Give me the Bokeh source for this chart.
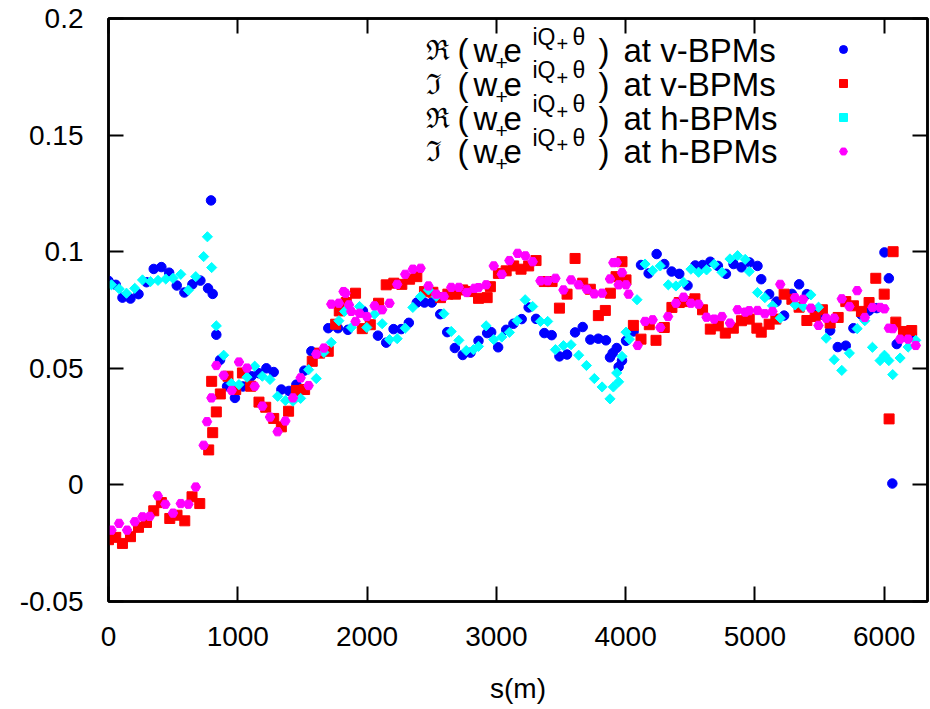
import numpy as np
from bokeh.plotting import figure
from bokeh.models import (Range1d, FixedTicker, LinearAxis, Label, Legend, LegendItem)
from bokeh.embed import file_html
from bokeh.resources import INLINE

# ---------------- data ----------------
re_v_s = [0, 56, 108, 170, 232, 294, 350, 409, 469, 528, 587, 649, 711, 770, 793, 806, 834, 863, 917, 978,
          1040, 1105, 1162, 1221, 1278, 1337, 1396, 1453, 1515, 1569, 1700, 1775, 1852, 1968, 2084, 2148, 2205,
          2264, 2323, 2385, 2444, 2501, 2566, 2620, 2679, 2740, 2800, 2862, 2929, 2960, 3014, 3076, 3132, 3196,
          3250, 3307, 3371, 3428, 3488, 3547, 3609, 3668, 3727, 3789, 3848, 3879, 3900, 3931, 3946, 3972, 4003,
          4062, 4119, 4178, 4240, 4299, 4356, 4415, 4479, 4539, 4595, 4655, 4714, 4776, 4835, 4896, 4958, 5020,
          5049, 5110, 5167, 5226, 5286, 5342, 5402, 5464, 5522, 5582, 5641, 5703, 5762, 5824, 5883, 5943, 6002,
          6036, 6063, 6097, 6154, 6213]
re_v_w = [0.0875, 0.0858, 0.0803, 0.0799, 0.0818, 0.0869, 0.0926, 0.0934, 0.091, 0.0855, 0.0825, 0.086, 0.0876,
          0.0843, 0.122, 0.0819, 0.0644, 0.0536, 0.0423, 0.0373, 0.0422, 0.0466, 0.0479, 0.05, 0.0484, 0.0409,
          0.0403, 0.043, 0.049, 0.0573, 0.0672, 0.0672, 0.0665, 0.0746, 0.064, 0.061, 0.0668, 0.0668, 0.0695,
          0.0782, 0.0782, 0.0782, 0.0732, 0.0655, 0.0587, 0.0557, 0.0567, 0.0618, 0.0651, 0.0655, 0.059, 0.0665,
          0.0691, 0.0711, 0.0761, 0.0712, 0.0651, 0.0642, 0.0551, 0.0559, 0.0654, 0.0677, 0.0623, 0.0627, 0.062,
          0.0547, 0.0565, 0.0587, 0.0506, 0.0533, 0.0618, 0.0658, 0.0943, 0.0907, 0.099, 0.0947, 0.0915, 0.0905,
          0.0855, 0.0941, 0.0943, 0.0957, 0.0939, 0.0905, 0.0947, 0.0933, 0.0954, 0.0939, 0.0882, 0.0818, 0.0786,
          0.0726, 0.0819, 0.086, 0.0818, 0.0747, 0.073, 0.0662, 0.0591, 0.0597, 0.0672, 0.073, 0.0747, 0.0758,
          0.0997, 0.0886, 0.0006, 0.0604, 0.0637, 0.0647]

im_v_s = [0, 56, 108, 170, 232, 294, 350, 409, 474, 530, 590, 646, 706, 775, 798, 806, 834, 865, 924, 984,
          1036, 1100, 1164, 1216, 1278, 1337, 1393, 1453, 1517, 1576, 1633, 1700, 1757, 1785, 1839, 1911, 1963,
          2025, 2089, 2148, 2207, 2269, 2329, 2385, 2444, 2509, 2568, 2625, 2684, 2740, 2805, 2862, 2929, 2954,
          3016, 3076, 3134, 3191, 3250, 3307, 3371, 3431, 3488, 3547, 3609, 3668, 3727, 3789, 3843, 3882, 3926,
          3972, 4003, 4060, 4119, 4183, 4235, 4299, 4358, 4415, 4475, 4536, 4595, 4655, 4717, 4771, 4833, 4896,
          4956, 5015, 5049, 5110, 5162, 5226, 5286, 5342, 5402, 5466, 5522, 5582, 5644, 5703, 5762, 5824, 5883,
          5935, 6000, 6038, 6069, 6090, 6149, 6213]
im_v_w = [-0.0235, -0.0225, -0.0251, -0.0222, -0.0182, -0.0161, -0.0111, -0.0076, -0.0144, -0.013, -0.0154,
          -0.0051, -0.008, 0.015, 0.0444, 0.0224, 0.0313, 0.039, 0.0466, 0.0409, 0.048, 0.0423, 0.0355, 0.0333,
          0.0285, 0.0249, 0.0316, 0.0405, 0.0409, 0.053, 0.0565, 0.0573, 0.0689, 0.0746, 0.0782, 0.0822, 0.067,
          0.0687, 0.0779, 0.0858, 0.0865, 0.086, 0.0882, 0.0893, 0.0829, 0.0826, 0.0803, 0.0818, 0.0818, 0.0836,
          0.0829, 0.08, 0.0803, 0.085, 0.0907, 0.0918, 0.0939, 0.0925, 0.0939, 0.0962, 0.0872, 0.0872, 0.0758,
          0.0818, 0.0971, 0.0865, 0.0839, 0.0726, 0.0748, 0.0822, 0.0893, 0.0957, 0.0879, 0.0684, 0.0625, 0.0687,
          0.062, 0.0675, 0.0761, 0.0782, 0.0786, 0.0798, 0.0751, 0.0668, 0.0682, 0.0651, 0.0672, 0.0704, 0.0711,
          0.0672, 0.0655, 0.0689, 0.0711, 0.0818, 0.0796, 0.0762, 0.0705, 0.0722, 0.0751, 0.0694, 0.0718, 0.0786,
          0.0768, 0.0744, 0.0782, 0.0886, 0.0818, 0.0283, 0.1, 0.0698, 0.0658, 0.0662]

re_h_s = [23, 82, 139, 203, 263, 325, 383, 443, 499, 559, 618, 675, 736, 765, 798, 834, 891, 950, 1009, 1071,
          1131, 1190, 1249, 1308, 1368, 1427, 1486, 1548, 1607, 1666, 1723, 1782, 1826, 1878, 1942, 1998, 2058,
          2117, 2174, 2233, 2295, 2354, 2414, 2475, 2535, 2594, 2651, 2710, 2767, 2823, 2862, 2921, 2980, 3042,
          3101, 3161, 3223, 3281, 3341, 3397, 3457, 3519, 3578, 3637, 3697, 3758, 3818, 3879, 3905, 3931, 3946,
          3972, 4003, 4029, 4088, 4150, 4209, 4268, 4330, 4389, 4448, 4505, 4564, 4626, 4685, 4745, 4807, 4866,
          4925, 4956, 5020, 5077, 5136, 5196, 5311, 5373, 5433, 5492, 5551, 5613, 5672, 5731, 5791, 5850, 5909,
          5968, 6002, 6036, 6066, 6123, 6185, 6244]
re_h_w = [0.0858, 0.0841, 0.0822, 0.0843, 0.0879, 0.0872, 0.0877, 0.0883, 0.0886, 0.0903, 0.0835, 0.0893,
          0.0979, 0.1064, 0.0932, 0.0682, 0.0556, 0.0435, 0.043, 0.0462, 0.0509, 0.0466, 0.0452, 0.038, 0.0362,
          0.0359, 0.0371, 0.0494, 0.0456, 0.0568, 0.0611, 0.0704, 0.0744, 0.0675, 0.0765, 0.0675, 0.0732, 0.0691,
          0.0623, 0.0627, 0.0672, 0.0761, 0.0808, 0.0836, 0.0808, 0.0734, 0.0658, 0.062, 0.0576, 0.058, 0.0594,
          0.0682, 0.0623, 0.0634, 0.0654, 0.0704, 0.0794, 0.0765, 0.0701, 0.0701, 0.058, 0.0597, 0.0601, 0.0556,
          0.0512, 0.0456, 0.042, 0.0369, 0.042, 0.048, 0.0442, 0.0551, 0.0655, 0.0625, 0.0794, 0.0947, 0.0919,
          0.0939, 0.0858, 0.0853, 0.0869, 0.0925, 0.0912, 0.0922, 0.0946, 0.0912, 0.0969, 0.0983, 0.0967, 0.0915,
          0.0825, 0.0803, 0.0768, 0.0715, 0.0772, 0.0765, 0.0815, 0.0762, 0.0629, 0.0537, 0.0491, 0.0565, 0.067,
          0.0704, 0.059, 0.0533, 0.0556, 0.0533, 0.0473, 0.0544, 0.0591, 0.062]

im_h_s = [23, 82, 144, 203, 263, 319, 381, 440, 499, 559, 618, 675, 736, 762, 796, 834, 891, 953, 1009, 1071,
          1131, 1190, 1249, 1308, 1368, 1427, 1486, 1548, 1607, 1666, 1723, 1782, 1818, 1834, 1860, 1878, 1911,
          1942, 1998, 2058, 2117, 2174, 2233, 2295, 2354, 2414, 2475, 2535, 2594, 2651, 2710, 2771, 2830, 2862,
          2921, 2980, 3042, 3101, 3165, 3225, 3281, 3341, 3397, 3457, 3519, 3578, 3637, 3699, 3758, 3818, 3879,
          3905, 3931, 3946, 3972, 4003, 4023, 4093, 4150, 4209, 4268, 4328, 4389, 4448, 4505, 4564, 4626, 4685,
          4745, 4807, 4866, 4925, 4956, 5020, 5077, 5136, 5196, 5311, 5373, 5433, 5492, 5551, 5613, 5672, 5731,
          5791, 5850, 5909, 5968, 6002, 6036, 6066, 6123, 6185, 6244]
im_h_w = [-0.0194, -0.0165, -0.0194, -0.0158, -0.0137, -0.0135, -0.0047, -0.0083, -0.0121, -0.008, -0.0083,
          -0.0009, 0.017, 0.0271, 0.0373, 0.0512, 0.047, 0.0405, 0.0527, 0.0501, 0.0423, 0.0338, 0.0291, 0.0228,
          0.0274, 0.0373, 0.0459, 0.0426, 0.0561, 0.0587, 0.0775, 0.0779, 0.0829, 0.0822, 0.0772, 0.0744, 0.0701,
          0.0736, 0.0722, 0.0768, 0.0751, 0.0779, 0.086, 0.0903, 0.0925, 0.0929, 0.0853, 0.0818, 0.0808, 0.0847,
          0.0847, 0.0825, 0.0843, 0.0846, 0.0858, 0.0939, 0.0903, 0.0962, 0.0993, 0.0982, 0.0957, 0.0875, 0.0875,
          0.0886, 0.0836, 0.0879, 0.0858, 0.0839, 0.0819, 0.0822, 0.0883, 0.0953, 0.0954, 0.0858, 0.091, 0.0858,
          0.0818, 0.0598, 0.0701, 0.0708, 0.0675, 0.0722, 0.0779, 0.0805, 0.0779, 0.0775, 0.0719, 0.0711, 0.0722,
          0.0694, 0.0751, 0.0741, 0.0747, 0.0748, 0.0734, 0.0744, 0.086, 0.0803, 0.0796, 0.0758, 0.0684, 0.0715,
          0.0715, 0.0798, 0.0765, 0.0833, 0.0718, 0.0761, 0.0761, 0.0755, 0.0672, 0.067, 0.0625, 0.0625, 0.0598]

x_ticks = [0, 1000, 2000, 3000, 4000, 5000, 6000]
y_ticks = [-0.05, 0.0, 0.05, 0.1, 0.15, 0.2]
y_tick_labels = ["-0.05", "0", "0.05", "0.1", "0.15", "0.2"]
x_label = "s(m)"
series_names = [("ℜ", "at v-BPMs"), ("ℑ", "at v-BPMs"), ("ℜ", "at h-BPMs"), ("ℑ", "at h-BPMs")]

# ---------------- figure ----------------
W, H = 930, 709
BL, BT, BR, BB = 108, 18, 3, 108
X0, X1, Y0, Y1 = 0, 6335, -0.05, 0.2
FONT = "Liberation Sans"
FS = "28px"

p = figure(width=W, height=H, output_backend="svg", toolbar_location=None,
           x_range=Range1d(X0, X1), y_range=Range1d(Y0, Y1),
           min_border_left=BL, min_border_right=BR, min_border_top=BT, min_border_bottom=BB)
p.grid.visible = False
p.outline_line_color = "black"
p.outline_line_width = 2.5
p.background_fill_color = "white"
p.border_fill_color = "white"

def style_axis(ax, labels=True):
    ax.axis_line_color = "black"
    ax.axis_line_width = 2.5
    ax.major_tick_in = 15
    ax.major_tick_out = 0
    ax.major_tick_line_width = 2
    ax.minor_tick_line_color = None
    ax.major_label_text_font = FONT
    ax.major_label_text_font_size = FS if labels else "8px"
    ax.major_label_text_color = "black"
    ax.axis_label_text_font = FONT
    ax.axis_label_text_font_size = FS
    ax.axis_label_text_font_style = "normal"
    ax.axis_label_text_color = "black"

xax = p.xaxis[0]
yax = p.yaxis[0]
xax.ticker = FixedTicker(ticks=x_ticks)
yax.ticker = FixedTicker(ticks=y_ticks)
yax.major_label_overrides = {float(t): l for t, l in zip(y_ticks, y_tick_labels)}
style_axis(xax)
style_axis(yax)
xax.major_label_standoff = 25
yax.major_label_standoff = 25
xax.axis_label = x_label
xax.axis_label_standoff = 24

top = LinearAxis(ticker=FixedTicker(ticks=x_ticks), major_label_standoff=0,
                 major_label_overrides={t: "" for t in x_ticks})
right = LinearAxis(ticker=FixedTicker(ticks=y_ticks), major_label_standoff=0,
                   major_label_overrides={float(t): "" for t in y_ticks})
style_axis(top, labels=False)
style_axis(right, labels=False)
p.add_layout(top, "above")
p.add_layout(right, "right")

r1 = p.scatter(re_v_s, re_v_w, marker="circle", size=9.5, color="#0000ff")
r2 = p.scatter(im_v_s, im_v_w, marker="square", size=10, color="#ff0000")
r3 = p.scatter(re_h_s, re_h_w, marker="square", size=7.2, angle=np.pi / 4, color="#00ffff")
r4 = p.scatter(im_h_s, im_h_w, marker="hex", size=9.5, color="#ff00ff")

# legend samples (markers only); the legend text is drawn to their left
leg = Legend(items=[LegendItem(label=" ", renderers=[r]) for r in (r1, r2, r3, r4)],
             location=(725, 440), padding=0, margin=0, spacing=14,
             glyph_width=20, glyph_height=20, label_height=20, label_width=1,
             label_text_font_size="10px", label_text_alpha=0, label_standoff=0,
             border_line_color=None, background_fill_alpha=0)
p.add_layout(leg, "center")

# pixel position on the page -> position in the plot's own units (for legend text placement)
FW, FH = W - BL - BR, H - BT - BB
def dx(px):
    return X0 + (px - BL) / FW * (X1 - X0)

def dy(py):
    return Y1 - (py - BT) / FH * (Y1 - Y0)

def lab(x, y, text, size):
    p.add_layout(Label(x=dx(x), y=dy(y), text=text,
                       text_font=FONT, text_font_size=size, text_color="black",
                       text_align="left", text_baseline="middle"))

ROW0, DY = 50.3, 33.6
for i, (sym, tail) in enumerate(series_names):
    c = ROW0 + i * DY
    lab(425, c, sym, "28px")
    lab(457, c, "(", "33px")
    lab(473, c, "w", "33px")
    lab(495, c + 12.5, "+", "21px")
    lab(503, c, "e", "33px")
    lab(532, c - 14, "iQ", "23px")
    lab(556, c - 6.5, "+", "20px")
    lab(572, c - 14, "θ", "23px")
    lab(598, c, ")", "33px")
    lab(623, c, tail, "33px")

open("out.html", "w").write(file_html(p, INLINE))
